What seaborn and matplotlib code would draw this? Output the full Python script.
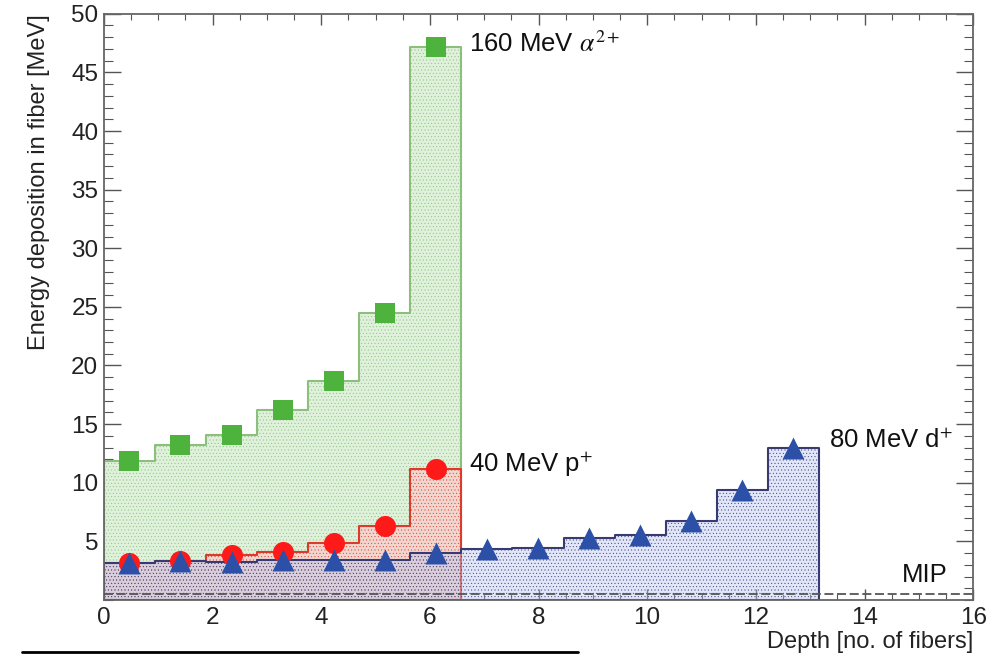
import numpy as np
import pandas as pd
import matplotlib
matplotlib.use("Agg")
import matplotlib.pyplot as plt
from matplotlib.lines import Line2D
from matplotlib.ticker import MultipleLocator
import seaborn as sns

# ---------------- data ----------------
FIBER_WIDTH = 0.94  # depth units per fiber bin
alpha_160 = [11.85, 13.25, 14.1, 16.2, 18.7, 24.45, 47.2]
proton_40 = [3.15, 3.35, 3.85, 4.05, 4.9, 6.3, 11.15]
deuteron_80 = [3.15, 3.3, 3.2, 3.45, 3.45, 3.45, 4.0, 4.35, 4.45, 5.25, 5.55, 6.7, 9.4, 12.95]
mip_level = 0.5
x_ticks = [0, 2, 4, 6, 8, 10, 12, 14, 16]
y_ticks = [5, 10, 15, 20, 25, 30, 35, 40, 45, 50]
labels = {"alpha": r"160 MeV $\alpha^{2+}$", "proton": r"40 MeV p$^{+}$",
          "deuteron": r"80 MeV d$^{+}$", "mip": "MIP"}


def frame(values):
    n = len(values)
    centers = (np.arange(n) + 0.5) * FIBER_WIDTH
    edges = [float(e) for e in np.arange(n + 1) * FIBER_WIDTH]
    return pd.DataFrame({"depth": centers, "edep": values}), edges


sns.set_style("ticks")
plt.rcParams["font.family"] = ["Liberation Sans", "DejaVu Sans"]
plt.rcParams["mathtext.fontset"] = "stix"
plt.rcParams["hatch.color"] = "#d2d2d2"
plt.rcParams["hatch.linewidth"] = 0.3

fig = plt.figure(figsize=(9.89, 6.55), dpi=100)
ax = fig.add_axes([0.105, 0.084, 0.879, 0.895])

series = [
    ("alpha", alpha_160, (0.875, 0.945, 0.860, 1.0), "#8cbf7e", "#4db33d", "s", 200),
    ("proton", proton_40, (0.945, 0.840, 0.810, 1.0), "#dc3a2a", "#ff1a1a", "o", 230),
    ("deuteron", deuteron_80, (0.720, 0.780, 0.940, 0.42), "#3a3a72", "#2c50a8", "^", 250),
]

frames = {}
for name, vals, face, edge, mcol, mk, ms in series:
    df, edges = frame(vals)
    frames[name] = df
    n_before = len(ax.collections)
    sns.histplot(data=df, x="depth", weights="edep", bins=edges, element="step",
                 fill=True, ax=ax, color=edge, linewidth=1.5)
    for coll in ax.collections[n_before:]:
        coll.set_facecolor(face)
        coll.set_edgecolor(edge)
        coll.set_hatch(".....")

for name, vals, face, edge, mcol, mk, ms in series:
    sns.scatterplot(data=frames[name], x="depth", y="edep", marker=mk, s=ms,
                    color=mcol, edgecolor=mcol, linewidth=0, ax=ax, zorder=5)

ax.axhline(mip_level, color="#555555", lw=1.3, ls=(0, (5, 2)), zorder=6)

ax.set_xlim(0, 16)
ax.set_ylim(0, 50)
ax.set_xticks(x_ticks)
ax.set_xticklabels([str(t) for t in x_ticks])
ax.set_yticks(y_ticks)
ax.set_yticklabels([str(t) for t in y_ticks])
ax.xaxis.set_minor_locator(MultipleLocator(0.5))
ax.yaxis.set_minor_locator(MultipleLocator(1))
ax.tick_params(which="both", direction="in", top=True, right=True, colors="#555555",
               labelcolor="#222222", labelsize=17.5)
ax.tick_params(axis="x", which="major", length=8, width=1, pad=5)
ax.tick_params(axis="x", which="minor", length=4.5, width=0.8)
ax.tick_params(axis="y", which="major", length=12, width=1, pad=4)
ax.tick_params(axis="y", which="minor", length=6.5, width=0.8)
for sp in ax.spines.values():
    sp.set_color("#666666")
    sp.set_linewidth(1.3)
    sp.set_visible(True)

ax.set_xlabel("Depth [no. of fibers]", fontsize=17, color="#222222", loc="right")
ax.set_ylabel("Energy deposition in fiber [MeV]", fontsize=17, color="#222222", loc="top")
ax.xaxis.set_label_coords(1.0, -0.053)
ax.yaxis.set_label_coords(-0.062, 1.0)

ax.text(6.72, 47.4, labels["alpha"], fontsize=18.5, va="center", ha="left", color="#111111")
ax.text(6.72, 11.6, labels["proton"], fontsize=18.5, va="center", ha="left", color="#111111")
ax.text(13.35, 13.6, labels["deuteron"], fontsize=18.5, va="center", ha="left", color="#111111")
ax.text(15.1, 2.1, labels["mip"], fontsize=18.5, va="center", ha="center", color="#111111")

fig.add_artist(Line2D([22 / 989, 578 / 989], [1 - 652 / 655] * 2, color="black", lw=2))

fig.savefig("out.png", dpi=100)
